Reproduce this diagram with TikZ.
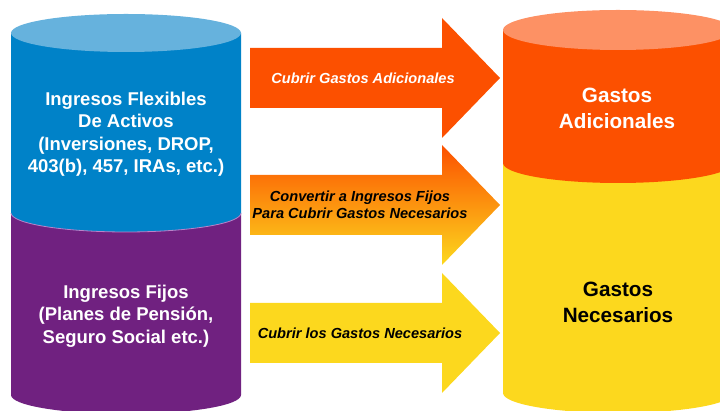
\documentclass[tikz,border=0pt]{standalone}
\usepackage{fontspec}
\setmainfont{Liberation Sans}
\definecolor{azul}{RGB}{0,130,200}
\definecolor{azulclaro}{RGB}{102,178,221}
\definecolor{morado}{RGB}{112,33,128}
\definecolor{moradoclaro}{RGB}{186,130,200}
\definecolor{naranja}{RGB}{252,80,0}
\definecolor{naranjaclaro}{RGB}{253,145,100}
\definecolor{amarillo}{RGB}{252,216,30}
\definecolor{ambar}{RGB}{255,160,30}
\begin{document}
\begin{tikzpicture}[x=1pt,y=1pt,
    izq/.style={font=\fontsize{18.5}{22.5}\selectfont\bfseries, align=center, text=white, inner sep=0pt},
    der/.style={font=\fontsize{20.7}{26}\selectfont\bfseries, align=center, inner sep=0pt},
    flecha/.style={font=\fontsize{14.6}{17}\selectfont\bfseries\itshape, align=center, inner sep=0pt}]
  \clip (0,0) rectangle (720,411);

  % cilindro izquierdo
  \coordinate (ci) at (126,0);
  \fill[shift={(ci)}, morado] (-115,198) -- (-115,16) arc[start angle=180, end angle=360, x radius=115pt, y radius=19pt] -- (115,198) -- cycle;
  \fill[shift={(ci)}, azul] (-115,378) -- (-115,198) arc[start angle=180, end angle=360, x radius=115pt, y radius=19pt] -- (115,378) -- cycle;
  \draw[shift={(ci)}, moradoclaro, line width=0.8pt] (-115,198) arc[start angle=180, end angle=360, x radius=115pt, y radius=19pt];
  \fill[shift={(ci)}, azulclaro] (0,378) ellipse [x radius=115pt, y radius=19pt];
  \node[izq] (flex) at (126,277) {Ingresos Flexibles\\De Activos\\(Inversiones, DROP,\\403(b), 457, IRAs, etc.)};
  \node[izq] (fijos) at (126,95) {Ingresos Fijos\\(Planes de Pensión,\\Seguro Social etc.)};

  % cilindro derecho
  \coordinate (cd) at (618,0);
  \fill[shift={(cd)}, amarillo] (-115,248) -- (-115,18) arc[start angle=180, end angle=360, x radius=115pt, y radius=20pt] -- (115,248) -- cycle;
  \fill[shift={(cd)}, naranja] (-115,381) -- (-115,248) arc[start angle=180, end angle=360, x radius=115pt, y radius=20pt] -- (115,381) -- cycle;
  \fill[shift={(cd)}, naranjaclaro] (0,381) ellipse [x radius=115pt, y radius=20pt];
  \node[der, text=white] (adic) at (617,303) {Gastos\\Adicionales};
  \node[der] (nec) at (618,109) {Gastos\\Necesarios};

  % flechas
  \coordinate (f1) at (250,333);
  \coordinate (f2) at (250,206);
  \coordinate (f3) at (250,78);
  \fill[shift={(f1)}, naranja] (0,-30) -- (192,-30) -- (192,-60) -- (250,0) -- (192,60) -- (192,30) -- (0,30) -- cycle;
  \shade[shift={(f2)}, top color=naranja, middle color=ambar, bottom color=amarillo] (0,-30) -- (192,-30) -- (192,-60) -- (250,0) -- (192,60) -- (192,30) -- (0,30) -- cycle;
  \fill[shift={(f3)}, amarillo] (0,-30) -- (192,-30) -- (192,-60) -- (250,0) -- (192,60) -- (192,30) -- (0,30) -- cycle;
  \node[flecha, text=white] (t1) at (363,333) {Cubrir Gastos Adicionales};
  \node[flecha] (t2) at (360,206) {Convertir a Ingresos Fijos\\Para Cubrir Gastos Necesarios};
  \node[flecha] (t3) at (360,78) {Cubrir los Gastos Necesarios};
\end{tikzpicture}
\end{document}
